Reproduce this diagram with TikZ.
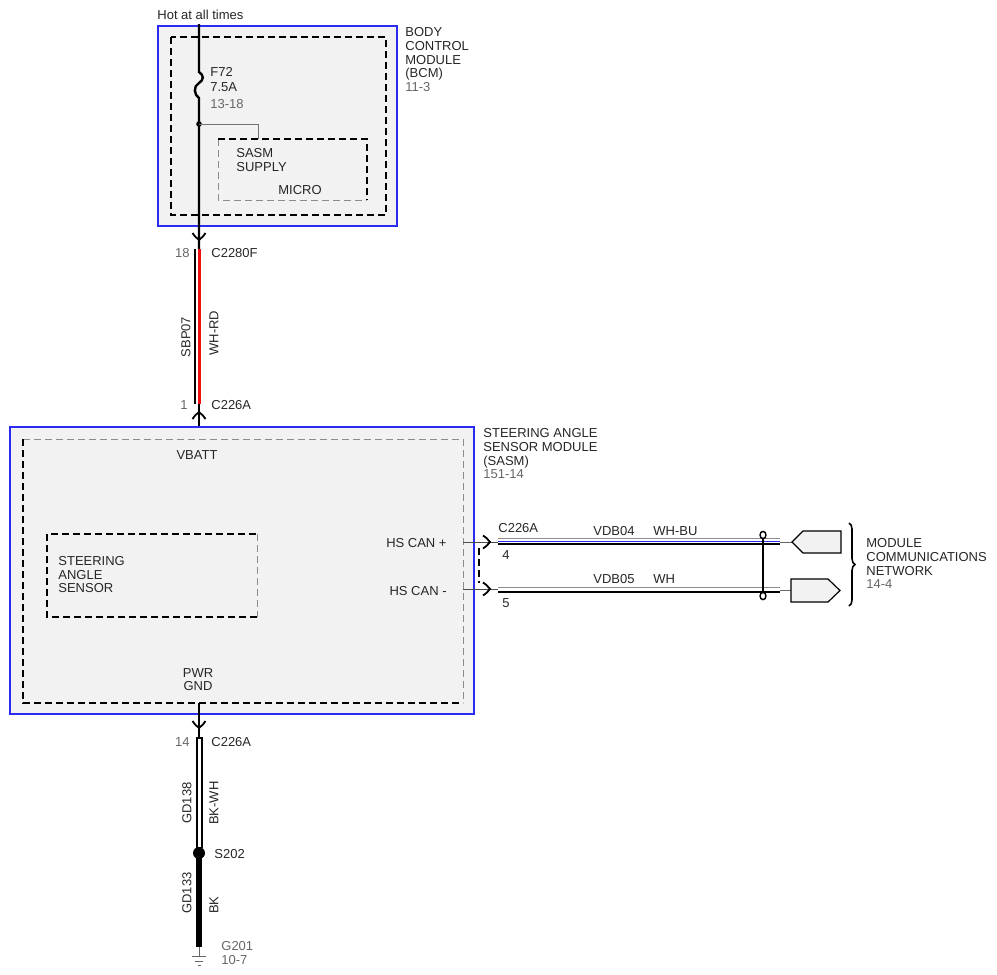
\documentclass[tikz,border=0pt]{standalone}
\usepackage{fontspec}
\setmainfont{Liberation Sans}
\usetikzlibrary{decorations.pathreplacing}
\definecolor{modfill}{HTML}{F2F2F2}
\definecolor{modblue}{HTML}{2A2AF0}
\definecolor{wirered}{HTML}{F01010}
\begin{document}
\begin{tikzpicture}[x=0.5pt,y=-0.5pt,
  every node/.style={inner sep=0pt,font=\fontsize{6.5}{6.8}\selectfont,text=black!85},
  lbl/.style={anchor=north west,align=left},
  pgref/.style={text=black!60},
  module/.style={draw=modblue,fill=modfill,line width=1pt},
  edgedash/.style={dash pattern=on 3.5pt off 2pt,line width=1pt},
  thindash/.style={dash pattern=on 3.5pt off 2pt,line width=0.5pt,draw=black!45},
  wire/.style={line width=1.2pt},
  chev/.pic={\draw[line width=0.9pt] (-7,-6.5) .. controls (-4,-4.5) .. (0,0) .. controls (-4,4.5) .. (-7,6.5);}]
  \useasboundingbox (0,0) rectangle (997,975);

  % body control module
  \draw[module] (158,26) rectangle (397,226);
  \draw[edgedash] (171,37) rectangle (386,215);
  \draw[thindash] (218,139) |- (367,200);
  \draw[edgedash] (218,139) -| (367,200);
  \node[lbl] (hottxt) at (157,9.5) {Hot at all times};
  \node[lbl] (f72) at (210,67.5) {F72};
  \node[lbl] (amp) at (210,82.5) {7.5A};
  \node[lbl,pgref] (fref) at (210,99.5) {13-18};
  \node[lbl] (supply) at (236,148.5) {SASM\\SUPPLY};
  \node[lbl] (micro) at (278,185.5) {MICRO};
  \node[lbl] (bcmtxt) at (405,27.5) {BODY\\CONTROL\\MODULE\\(BCM)\\\textcolor{black!60}{11-3}};

  \coordinate (hot) at (199,24);
  \coordinate (fusetop) at (199,72);
  \coordinate (fusebot) at (199,98);
  \coordinate (spl) at (199,124);
  \coordinate (micropin) at (258,139);
  \coordinate (c2280) at (199,249);
  \draw[wire] (hot) -- (fusetop) .. controls (204,75) and (204,80) .. (199,83)
    .. controls (193,86) and (194,95) .. (fusebot) -- (c2280);
  \fill (spl) circle [radius=1.4pt];
  \draw[black!55,line width=0.5pt] (spl) -| (micropin);
  \pic[rotate=-90] at (199,240) {chev};

  % SBP07 circuit
  \coordinate (c226top) at (199,404);
  \coordinate (vbattpin) at (199,439);
  \draw[line width=0.75pt] ([xshift=-2pt]c2280) -- ([xshift=-2pt]c226top);
  \draw[wirered,line width=1.25pt] ([xshift=0.25pt]c2280) -- ([xshift=0.25pt]c226top);
  \draw[wire] (c226top) -- (vbattpin);
  \pic[rotate=90] at (199,412) {chev};
  \node[anchor=north east,pgref] (p18) at (190,248.5) {18};
  \node[lbl] (c2280f) at (211,248.5) {C2280F};
  \node[anchor=north east,pgref] (p1) at (188,400.5) {1};
  \node[lbl] (c226aa) at (211,400.5) {C226A};
  \node[rotate=90] (sbp) at (186,337) {SBP07};
  \node[rotate=90] (whrd) at (214,333) {WH-RD};

  % steering angle sensor module
  \draw[module] (10,427) rectangle (474,714);
  \draw[thindash] (23,439) -| (463,703);
  \draw[edgedash] (23,439) |- (463,703);
  \draw[edgedash] (257,617) -| (47,534) -- (257,534);
  \draw[thindash] (257,534) -- (257,617);
  \node[anchor=north] (vbatt) at (197,450.5) {VBATT};
  \node[lbl] (sensor) at (58,556) {STEERING\\ANGLE\\SENSOR};
  \node[anchor=north,align=center] (pwrgnd) at (198,668) {PWR\\GND};
  \node[anchor=north east] (canh) at (447,538.5) {HS CAN +};
  \node[anchor=north east] (canl) at (447,586.5) {HS CAN -};
  \node[lbl] (sasmtxt) at (483,428.5) {STEERING ANGLE\\SENSOR MODULE\\(SASM)\\\textcolor{black!60}{151-14}};

  % HS CAN circuits
  \foreach \y/\n in {542/h,589/l} {
    \coordinate (stub\n) at (463,\y);
    \coordinate (pin\n) at (498,\y);
    \draw[black!70,line width=0.5pt] (stub\n) -- (pin\n);
    \pic at (490,\y) {chev};
  }
  \draw[edgedash,line width=1.2pt] (479,548) -- (479,583);
  \draw[black!45,line width=0.5pt] (498,538.5) -- (780,538.5) (498,587.5) -- (780,587.5);
  \draw[modblue,line width=0.5pt] (498,541.5) -- (780,541.5);
  \draw[line width=1pt] (498,544) -- (780,544) (498,591.5) -- (780,591.5);
  \draw[black!60,line width=0.5pt] (780,542) -- (792,542) (780,590) -- (791,590);
  \draw[line width=1pt] (763,539) -- (763,592);
  \draw[line width=0.7pt] (763,535) ellipse [x radius=1.5pt,y radius=1.8pt]
    (763,596) ellipse [x radius=1.5pt,y radius=1.8pt];
  \draw[fill=modfill,line width=0.6pt] (792,542) -- (803,531) -- (841,531) -- (841,553) -- (803,553) -- cycle;
  \draw[fill=modfill,line width=0.6pt] (791,579) -- (828,579) -- (840,590.5) -- (828,602) -- (791,602) -- cycle;
  \draw[line width=0.8pt,decorate,decoration={brace,amplitude=3pt}] (849,523) -- (849,606);
  \node[lbl] (c226ab) at (498,523.5) {C226A};
  \node[lbl] (p4) at (502,550.5) {4};
  \node[lbl] (p5) at (502,598.5) {5};
  \node[lbl] (vdb04) at (593,526) {VDB04};
  \node[lbl] (whbu) at (653,526) {WH-BU};
  \node[lbl] (vdb05) at (593,574.5) {VDB05};
  \node[lbl] (wh) at (653,574.5) {WH};
  \node[lbl] (mcn) at (866,538.5) {MODULE\\COMMUNICATIONS\\NETWORK\\\textcolor{black!60}{14-4}};

  % ground circuit
  \coordinate (gndpin) at (199,703);
  \coordinate (c226bot) at (199,737);
  \coordinate (s202) at (199,853);
  \coordinate (g201) at (199,947);
  \draw[wire] (gndpin) -- (c226bot);
  \pic[rotate=-90] at (199,728) {chev};
  \draw[line width=3.5pt] (c226bot) -- (199,848);
  \draw[white,line width=1.5pt] (199,738.5) -- (199,846.5);
  \fill (s202) circle [radius=3pt];
  \draw[line width=3pt] (199,858) -- (g201);
  \draw[black!60,line width=0.5pt] (g201) -- (199,956) (192,956) -- (206,956)
    (195,961) -- (203,961) (197.5,965) -- (200.5,965);
  \node[anchor=north east,pgref] (p14) at (190,737.5) {14};
  \node[lbl] (c226ac) at (211,737.5) {C226A};
  \node[rotate=90] (gd138) at (187,803) {GD138};
  \node[rotate=90] (bkwh) at (214,803) {BK-WH};
  \node[lbl] (s202txt) at (214,849.5) {S202};
  \node[rotate=90] (gd133) at (187,893) {GD133};
  \node[rotate=90] (bk) at (214,905) {BK};
  \node[lbl,pgref] (g201txt) at (221,941.5) {G201\\10-7};
\end{tikzpicture}
\end{document}
